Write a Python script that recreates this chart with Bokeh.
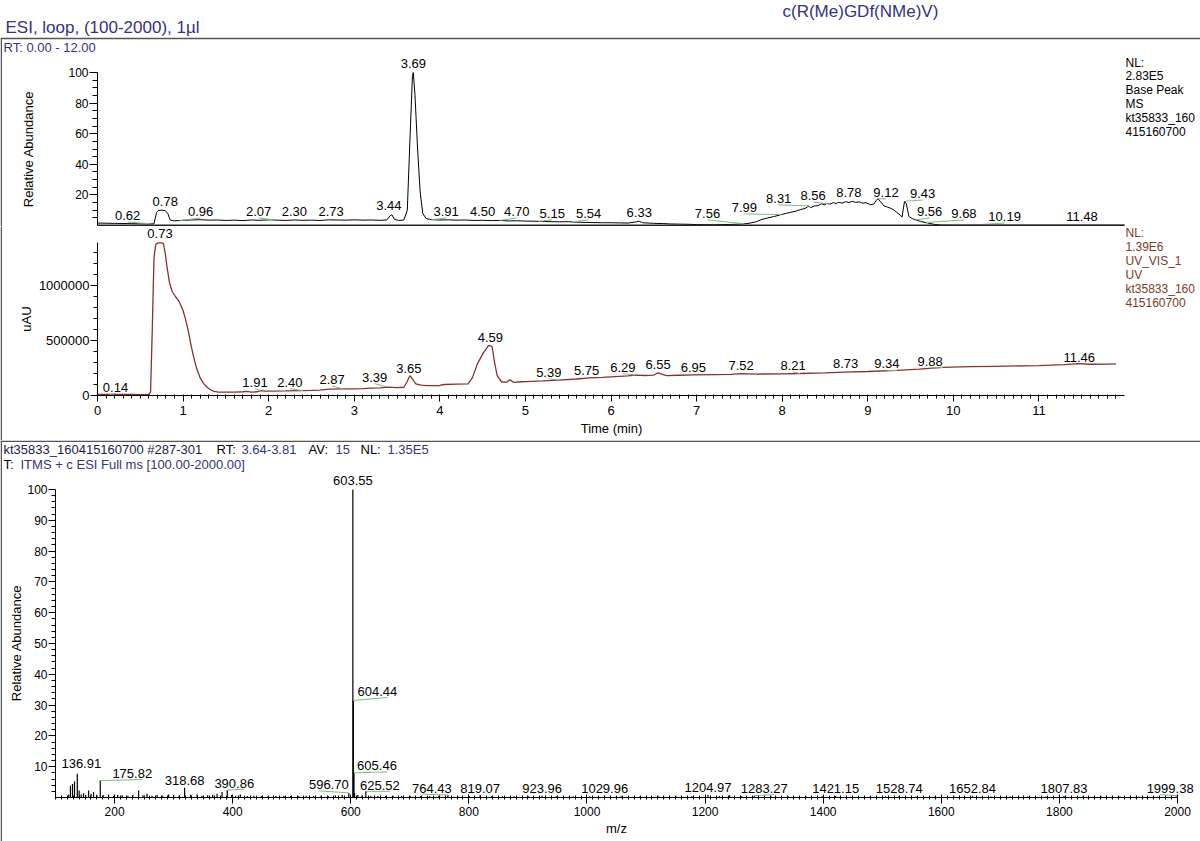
import numpy as np
from bokeh.plotting import figure
from bokeh.models import (Range1d, FixedTicker, Label, Arrow, ColumnDataSource,
                          NumeralTickFormatter)
from bokeh.layouts import column
from bokeh.embed import file_html
from bokeh.resources import INLINE
from bokeh.core.properties import value

FONT = "Liberation Sans"

# ---------------- data ----------------
# Base peak chromatogram (time in min, relative abundance in %)
bp_time = [0.00, 0.10, 0.20, 0.30, 0.40, 0.50, 0.60, 0.66, 0.69, 0.71, 0.75, 0.79, 0.82, 0.85, 0.90,
           1.00, 1.10, 1.20, 1.30, 1.40, 1.50, 1.60, 1.70, 1.80, 1.90, 2.00, 2.10, 2.20, 2.30, 2.40,
           2.50, 2.60, 2.70, 2.80, 2.90, 3.00, 3.10, 3.20, 3.30, 3.38, 3.42, 3.44, 3.47, 3.52, 3.58,
           3.62, 3.65, 3.68, 3.69, 3.71, 3.74, 3.77, 3.80, 3.84, 3.90, 4.00, 4.10, 4.20, 4.30, 4.40,
           4.50, 4.60, 4.70, 4.80, 4.90, 5.00, 5.10, 5.20, 5.30, 5.40, 5.50, 5.60, 5.70, 5.80, 5.90,
           6.00, 6.10, 6.20, 6.30, 6.33, 6.37, 6.50, 6.60, 6.70, 6.80, 6.90, 7.00, 7.10, 7.20, 7.30,
           7.40, 7.50, 7.60, 7.70, 7.75, 7.80, 7.90, 7.98, 8.05, 8.10, 8.15, 8.21, 8.27, 8.31, 8.33,
           8.38, 8.42, 8.46, 8.50, 8.52, 8.56, 8.60, 8.63, 8.66, 8.70, 8.74, 8.78, 8.82, 8.86, 8.90,
           8.94, 8.98, 9.03, 9.07, 9.10, 9.12, 9.15, 9.19, 9.23, 9.27, 9.30, 9.34, 9.38, 9.40, 9.43,
           9.45, 9.48, 9.52, 9.56, 9.62, 9.69, 9.77, 9.85, 10.00, 10.50, 11.00, 11.50, 12.00]
bp_abund = [1.6, 1.5, 1.4, 1.3, 1.2, 1.1, 1.0, 1.1, 8.5, 9.8, 10.0, 9.8, 8.0, 3.5, 3.0,
            3.4, 3.6, 3.8, 3.5, 3.6, 3.3, 3.5, 3.2, 3.6, 3.4, 3.7, 3.5, 3.3, 3.6, 3.4,
            3.5, 3.3, 3.7, 3.6, 3.5, 3.7, 3.5, 3.6, 3.4, 3.6, 6.5, 7.0, 4.0, 3.3, 3.6,
            10.0, 55.0, 98.0, 100.0, 85.0, 50.0, 22.0, 8.0, 4.5, 3.8, 3.6, 3.7, 3.5, 3.6, 3.3,
            3.4, 3.2, 3.3, 3.0, 3.1, 2.9, 2.8, 2.6, 2.5, 2.4, 2.5, 2.2, 2.0, 1.9, 1.8,
            1.8, 1.7, 1.6, 2.4, 2.8, 1.8, 1.4, 1.3, 1.0, 0.9, 0.8, 0.6, 0.5, 0.5, 0.6,
            0.7, 0.9, 1.3, 2.5, 3.7, 4.5, 5.8, 7.0, 8.0, 8.6, 9.2, 10.3, 11.2, 12.8, 11.6,
            12.8, 13.0, 14.2, 13.4, 14.5, 14.0, 15.0, 14.3, 15.2, 14.6, 15.6, 15.0, 15.8, 15.1, 15.5,
            14.6, 14.9, 13.6, 14.0, 16.5, 17.5, 15.5, 12.8, 12.0, 11.2, 10.3, 8.5, 6.8, 5.5, 15.8,
            14.5, 6.0, 4.5, 3.7, 2.6, 1.8, 0.8, 0.3, 0.2, 0.2, 0.2, 0.2, 0.2]
bp_peak_rt = [0.62, 0.78, 0.96, 2.07, 2.30, 2.73, 3.44, 3.69, 3.91, 4.50, 4.70, 5.15, 5.54,
              6.33, 7.56, 7.99, 8.31, 8.56, 8.78, 9.12, 9.43, 9.56, 9.68, 10.19, 11.48]

# UV trace (time in min, uAU)
uv_time = [0.00, 0.10, 0.20, 0.30, 0.40, 0.50, 0.60, 0.62, 0.64, 0.66, 0.68, 0.71, 0.75, 0.77, 0.79,
           0.81, 0.84, 0.87, 0.91, 0.95, 0.98, 1.00, 1.03, 1.06, 1.09, 1.12, 1.16, 1.20, 1.24, 1.28,
           1.32, 1.36, 1.40, 1.50, 1.60, 1.70, 1.74, 1.80, 1.86, 1.91, 1.96, 2.00, 2.20, 2.40, 2.50,
           2.60, 2.70, 2.87, 3.00, 3.10, 3.20, 3.30, 3.39, 3.50, 3.58, 3.62, 3.65, 3.68, 3.72, 3.78,
           3.85, 4.00, 4.05, 4.20, 4.33, 4.38, 4.44, 4.51, 4.57, 4.61, 4.64, 4.67, 4.72, 4.78, 4.82,
           4.86, 4.95, 5.00, 5.20, 5.39, 5.60, 5.75, 5.90, 6.00, 6.20, 6.29, 6.40, 6.50, 6.55, 6.60,
           6.65, 6.80, 6.95, 7.20, 7.40, 7.52, 7.70, 8.00, 8.21, 8.50, 8.73, 9.00, 9.34, 9.60, 9.88,
           10.20, 10.50, 11.00, 11.30, 11.46, 11.60, 11.80, 11.90]
uv_signal = [10000, 11000, 10000, 9000, 9000, 8000, 9000, 30000, 600000, 1250000, 1375000, 1388000, 1388000, 1380000, 1300000,
             1180000, 1030000, 950000, 900000, 860000, 810000, 770000, 690000, 590000, 470000, 360000, 240000, 160000, 108000, 75000,
             52000, 38000, 32000, 30000, 31000, 34000, 38000, 30000, 34000, 44000, 40000, 40000, 42000, 45000, 46000,
             49000, 58000, 60000, 60000, 63000, 67000, 70000, 77000, 72000, 75000, 130000, 180000, 150000, 105000, 95000,
             90000, 91000, 100000, 103000, 106000, 160000, 290000, 390000, 455000, 445000, 300000, 180000, 125000, 120000, 142000,
             120000, 125000, 127000, 133000, 140000, 150000, 160000, 165000, 170000, 178000, 185000, 182000, 186000, 205000, 192000,
             180000, 184000, 188000, 190000, 192000, 198000, 195000, 197000, 200000, 205000, 212000, 218000, 228000, 240000, 255000,
             262000, 265000, 272000, 280000, 290000, 284000, 285000, 288000]
uv_peak_rt = [0.14, 0.73, 1.91, 2.40, 2.87, 3.39, 3.65, 4.59, 5.39, 5.75, 6.29, 6.55, 6.95,
              7.52, 8.21, 8.73, 9.34, 9.88, 11.46]

# Mass spectrum (m/z, relative abundance %)
ms_mz = [122.4, 125.3, 128.8, 132.2, 136.91, 140.0, 143.5, 147.5, 151.0, 156.0, 160.2, 164.4, 170.1, 175.82,
         181.0, 189.8, 198.5, 205.3, 213.0, 222.6, 231.0, 240.7, 248.2, 255.0, 263.4, 272.1, 281.5, 291.6,
         300.2, 309.5, 318.68, 328.9, 339.7, 348.0, 357.6, 366.2, 373.6, 382.0, 390.86, 398.3, 405.0, 413.0,
         424.8, 436.1, 448.5, 460.2, 473.0, 486.7, 498.4, 511.9, 524.3, 537.1, 549.6, 561.8, 574.0, 585.4,
         596.70, 603.55, 604.44, 605.46, 606.5, 612.0, 618.8, 625.52, 634.0, 645.7, 659.0, 672.3, 686.1,
         701.4, 718.2, 733.5, 749.0, 764.43, 781.2, 800.5, 819.07, 838.4, 857.0, 876.3, 901.1, 923.96,
         948.2, 976.5, 1004.3, 1029.96, 1058.0, 1089.7, 1121.5, 1150.8, 1177.3, 1204.97, 1224.0, 1241.6,
         1262.1, 1283.27, 1312.0, 1340.5, 1371.9, 1398.2, 1421.15, 1450.0, 1479.6, 1505.3, 1528.74, 1557.0,
         1589.2, 1621.8, 1652.84, 1684.1, 1716.0, 1746.2, 1777.5, 1807.83, 1839.0, 1871.4, 1902.6, 1934.8,
         1966.1, 1999.38]
ms_abund = [1.0, 3.8, 4.4, 5.2, 7.7, 2.3, 1.0, 1.4, 0.8, 2.3, 1.2, 1.8, 0.9, 5.5,
            0.7, 1.0, 0.6, 0.8, 0.7, 0.6, 0.8, 2.3, 0.7, 1.2, 0.6, 0.8, 0.6, 1.0,
            0.8, 0.7, 3.2, 0.9, 1.0, 0.6, 0.7, 0.9, 1.2, 1.8, 2.4, 0.8, 0.6, 1.0,
            0.5, 0.6, 0.5, 0.6, 0.5, 0.6, 0.5, 0.5, 0.6, 0.5, 0.6, 0.5, 0.7, 0.8,
            1.5, 100.0, 31.5, 8.0, 1.5, 0.8, 0.6, 2.0, 0.6, 0.5, 0.5, 0.4, 0.5,
            0.4, 0.5, 0.4, 0.6, 0.8, 0.4, 0.5, 0.8, 0.4, 0.4, 0.4, 0.4, 0.6,
            0.4, 0.4, 0.4, 0.6, 0.4, 0.3, 0.4, 0.3, 0.4, 0.9, 0.5, 0.7,
            0.4, 0.6, 0.3, 0.4, 0.3, 0.4, 0.5, 0.3, 0.3, 0.4, 0.6, 0.3,
            0.3, 0.3, 0.5, 0.3, 0.3, 0.3, 0.3, 0.5, 0.3, 0.3, 0.3, 0.3,
            0.3, 0.6]
ms_label_mz = [136.91, 175.82, 318.68, 390.86, 596.70, 603.55, 604.44, 605.46, 625.52, 764.43, 819.07,
               923.96, 1029.96, 1204.97, 1283.27, 1421.15, 1528.74, 1652.84, 1807.83, 1999.38]

# ---------------- label layout (placement only: label centre level, px offsets) ----------------
bp_lab_level = [6.6, 15.7, 9.2, 9.2, 9.2, 9.2, 13.1, 105.9, 9.2, 9.2, 9.2, 7.9, 7.9,
                8.5, 7.9, 11.8, 17.7, 19.6, 21.6, 21.6, 20.9, 9.2, 7.9, 5.9, 5.9]
bp_lab_dx = [-23, 1, 21, -16, 0, 0, -3, 0, 14, 0, 17, 14, 17,
             0, -37, -37, -30, -17, 0, 8, 18, 14, 38, 35, 2]
uv_lab_level = [75000, 1473000, 121000, 121000, 146000, 167000, 243000, 530000, 212000, 228000,
                258000, 279000, 258000, 273000, 273000, 288000, 288000, 309000, 348000]
uv_lab_dx = [6, 0, -6, -13, -11, -13, -1, 0, -10, -3, -13, 0, 1, 0, -7, 1, -10, -13, 1]
ms_lab_dx = [4, 32, 0, 7, -20, 0, 24, 23, 14, -16, 0, 0, 0, 0, 10, 0, 0, 0, 0, -7]
ms_lab_dy = [-10, -7, -7, -7, -8, -9, -9, -7, -6, -7, -7, -7, -7, -7, -7, -7, -7, -7, -7, -7]

# ---------------- geometry (page pixels) ----------------
W = 1200
H1, H2, H3 = 226, 214, 401
PPM = (1124 - 97) / 12.0
X12 = Range1d(-97 / PPM, (W - 97) / PPM)
PPU1 = (225 - 72) / 100.0
Y1 = Range1d(-(H1 - 225) / PPU1, 225 / PPU1)
PPU2 = 55 / 500000.0
Y2 = Range1d(-(H2 - 169) / PPU2, 169 / PPU2)
PPZ = (1177 - 55) / 1900.0
X3 = Range1d(100 - 55 / PPZ, 100 + (W - 55) / PPZ)
PPU3 = (797 - 489) / 100.0
Y3 = Range1d(-(H3 - 357) / PPU3, 357 / PPU3)

NAVY = "#333380"
BROWN = "#7a3b2b"
UVRED = "#843232"
GREEN = "#7dbb7d"
SEP = "#555555"


def make_fig(h, xr, yr):
    p = figure(width=W, height=h, x_range=xr, y_range=yr, output_backend="svg",
               toolbar_location=None, min_border_left=0, min_border_right=0,
               min_border_top=0, min_border_bottom=0)
    p.grid.visible = False
    p.outline_line_color = None
    p.background_fill_color = "white"
    p.border_fill_color = "white"
    return p


def style_axis(ax, size="12px", mo=8, mi=0, no=5, ni=0, standoff=1):
    ax.axis_line_color = "black"
    ax.axis_line_width = 1
    ax.major_tick_line_color = "black"
    ax.minor_tick_line_color = "black"
    ax.major_tick_out = mo
    ax.major_tick_in = mi
    ax.minor_tick_out = no
    ax.minor_tick_in = ni
    ax.major_label_text_font = FONT
    ax.major_label_text_font_size = size
    ax.major_label_text_color = "black"
    ax.major_label_standoff = standoff


def lab(p, x, y, text, size="12px", color="black", align="left", baseline="middle", angle=0.0):
    p.add_layout(Label(x=x, y=y, x_units="screen", y_units="screen", text=text,
                       text_font=FONT, text_font_size=size, text_color=color,
                       text_align=align, text_baseline=baseline, angle=angle))


def sline(p, x0, y0, x1, y1, color=SEP, w=1.5):
    p.add_layout(Arrow(start=None, end=None, x_start=x0, y_start=y0, x_end=x1, y_end=y1,
                       start_units="screen", end_units="screen", line_color=color, line_width=w))


def peak_text(p, src, with_dy=False):
    kw = dict(x="x", y="y", text="t", x_offset="dx", source=src, text_font=value(FONT),
              text_font_size="13px", text_align="center", text_baseline="alphabetic",
              text_color="black")
    if with_dy:
        kw["y_offset"] = "dy"
    p.text(**kw)


# ---------------- figure 1: base peak ----------------
p1 = make_fig(H1, X12, Y1)
ay = p1.yaxis[0]
style_axis(ay, mo=8, no=5)
ay.ticker = FixedTicker(ticks=[20, 40, 60, 80, 100], minor_ticks=list(range(5, 100, 5)))
ay.bounds = (0, 100)
ay.fixed_location = 0
ax = p1.xaxis[0]
style_axis(ax)
ax.ticker = FixedTicker(ticks=[])
ax.axis_line_color = "#222222"
ax.axis_line_width = 2
ax.bounds = (0, 12)
ax.fixed_location = 0
p1.line(bp_time, bp_abund, line_color="black", line_width=1)

mpp = 1.0 / PPM
bp_interp = np.interp(bp_peak_rt, bp_time, bp_abund)
gx0, gy0, gx1, gy1 = [], [], [], []
for rt, lv, dx, cv in zip(bp_peak_rt, bp_lab_level, bp_lab_dx, bp_interp):
    if abs(dx) >= 8:
        gx0.append(rt); gy0.append(cv)
        gx1.append(rt + dx * mpp); gy1.append(lv - 6.5 / PPU1)
p1.segment(gx0, gy0, gx1, gy1, line_color=GREEN, line_width=1)
peak_text(p1, ColumnDataSource(dict(x=bp_peak_rt, y=bp_lab_level, dx=bp_lab_dx,
                                    t=[f"{v:.2f}" for v in bp_peak_rt])))

lab(p1, 782, H1 - 11, "c(R(Me)GDf(NMe)V)", size="17px", color=NAVY)
lab(p1, 5, H1 - 27, "ESI, loop, (100-2000), 1\u00b5l", size="17px", color=NAVY)
sline(p1, 0, H1 - 38, W, H1 - 38)
lab(p1, 3, H1 - 47, "RT: 0.00 - 12.00", size="13px", color=NAVY)
for i, s in enumerate(["NL:", "2.83E5", "Base Peak", "MS", "kt35833_160", "415160700"]):
    lab(p1, 1125, H1 - 62 - i * 13.8, s, size="12px", color="black")
lab(p1, 28, H1 - 148.5, "Relative Abundance", size="13px", align="center", angle=np.pi / 2)
sline(p1, 0.75, H1 - 38, 0.75, 0, w=1.5)

# ---------------- figure 2: UV ----------------
p2 = make_fig(H2, X12, Y2)
ay = p2.yaxis[0]
style_axis(ay, size="13px", mo=7, no=4)
ay.ticker = FixedTicker(ticks=[0, 500000, 1000000], minor_ticks=[k * 100000 for k in range(0, 14)])
ay.formatter = NumeralTickFormatter(format="0")
ay.bounds = (0, 1390000)
ay.fixed_location = 0
ax = p2.xaxis[0]
style_axis(ax, size="13px", mo=6, no=3, ni=1, standoff=4)
ax.ticker = FixedTicker(ticks=list(range(0, 12)), minor_ticks=[k / 10 for k in range(0, 120)])
ax.bounds = (0, 12)
ax.fixed_location = 0
p2.line(uv_time, uv_signal, line_color=UVRED, line_width=1.3)

uv_interp = np.interp(uv_peak_rt, uv_time, uv_signal)
gx0, gy0, gx1, gy1 = [], [], [], []
for rt, lv, dx, cv in zip(uv_peak_rt, uv_lab_level, uv_lab_dx, uv_interp):
    if abs(dx) >= 6:
        gx0.append(rt); gy0.append(cv)
        gx1.append(rt + dx * mpp); gy1.append(lv - 6.5 / PPU2)
p2.segment(gx0, gy0, gx1, gy1, line_color=GREEN, line_width=1)
peak_text(p2, ColumnDataSource(dict(x=uv_peak_rt, y=uv_lab_level, dx=uv_lab_dx,
                                    t=[f"{v:.2f}" for v in uv_peak_rt])))
for i, s in enumerate(["NL:", "1.39E6", "UV_VIS_1", "UV", "kt35833_160", "415160700"]):
    lab(p2, 1125, (440 - 232) - i * 14, s, size="12px", color=BROWN)
lab(p2, 26, 440 - 318.5, "uAU", size="13px", align="center", angle=np.pi / 2)
lab(p2, 611, 440 - 427.5, "Time (min)", size="13px", align="center")
sline(p2, 0.75, H2, 0.75, 0, w=1.5)

# ---------------- figure 3: mass spectrum ----------------
p3 = make_fig(H3, X3, Y3)
ay = p3.yaxis[0]
style_axis(ay, mo=7, no=4)
ay.ticker = FixedTicker(ticks=list(range(10, 101, 10)), minor_ticks=list(range(2, 100, 2)))
ay.bounds = (0, 100)
ay.fixed_location = 100
ax = p3.xaxis[0]
style_axis(ax, mo=6, mi=3, no=2, ni=2, standoff=3)
ax.ticker = FixedTicker(ticks=list(range(200, 2001, 200)), minor_ticks=list(range(100, 2001, 10)))
ax.bounds = (100, 2000)
ax.fixed_location = 0
p3.segment(x0=ms_mz, y0=[0] * len(ms_mz), x1=ms_mz, y1=ms_abund, line_color="black", line_width=1.2)

mzpp = 1.0 / PPZ
ms_lab_ab = [ms_abund[ms_mz.index(m)] for m in ms_label_mz]
gx0, gy0, gx1, gy1 = [], [], [], []
for m, a, dx, dy in zip(ms_label_mz, ms_lab_ab, ms_lab_dx, ms_lab_dy):
    if abs(dx) >= 7:
        gx0.append(m); gy0.append(a)
        gx1.append(m + (dx + np.sign(dx) * 10) * mzpp); gy1.append(a + (abs(dy) - 6) / PPU3)
p3.segment(gx0, gy0, gx1, gy1, line_color=GREEN, line_width=1)
peak_text(p3, ColumnDataSource(dict(x=ms_label_mz, y=ms_lab_ab, dx=ms_lab_dx, dy=ms_lab_dy,
                                    t=[f"{v:.2f}" for v in ms_label_mz])), with_dy=True)

sline(p3, 0, H3 - 0.75, W, H3 - 0.75)
sline(p3, 0.75, H3, 0.75, 0, w=1.5)
DARK = "#1c1c48"
hdr1 = [(3, "kt35833_160415160700 #287-301", DARK), (216, "RT:", "black"), (241, "3.64-3.81", NAVY),
        (308, "AV:", "black"), (335, "15", NAVY), (360, "NL:", "black"), (387, "1.35E5", NAVY)]
for x, s, c in hdr1:
    lab(p3, x, 841 - 449, s, size="13px", color=c)
lab(p3, 3, 841 - 464, "T:", size="13px", color="black")
lab(p3, 20, 841 - 464, "ITMS + c ESI Full ms [100.00-2000.00]", size="13px", color=NAVY)
lab(p3, 16, 841 - 642.5, "Relative Abundance", size="13px", align="center", angle=np.pi / 2)
lab(p3, 616, 841 - 828, "m/z", size="13px", align="center")

layout = column(p1, p2, p3, spacing=0)
open("out.html", "w").write(file_html(layout, INLINE))
